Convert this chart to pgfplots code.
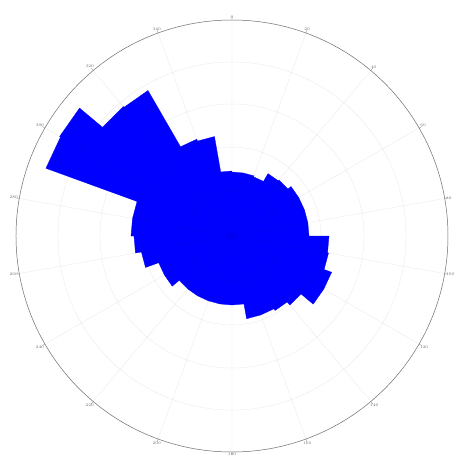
\documentclass[border=0pt]{standalone}
\usepackage{pgfplots}
\pgfplotsset{compat=1.18}
\usepgfplotslibrary{polar}
\begin{document}
\begin{tikzpicture}
\begin{polaraxis}[
  name=ax, at={(0,0)}, anchor=center,
  width=432bp, height=432bp, scale only axis,
  ymin=0, ymax=21.6,
  ytick={4.6,8.9,13.2,17.4,21.6}, yticklabels={},
  y axis line style={draw=none},
  ytick style={draw=none},
  xtick={10,30,...,350},
  xticklabels={80,60,40,20,0,340,320,300,280,260,240,220,200,180,160,140,120,100},
  xticklabel style={font=\fontsize{4}{4}\selectfont, text=black!60, inner sep=1pt},
  major tick length=3bp,
  xtick style={black!60},
  grid=major,
  major grid style={black, opacity=0.08, line width=0.4pt},
  x axis line style={black!55, line width=0.5pt},
  axis on top,
]
\addplot[fill=blue, draw=blue, line width=0.3pt] coordinates {
(90,6.4) (80,6.4)
(80,6.4) (70,6.4)
(70,6.3) (60,6.3)
(60,7.2) (50,7.2)
(50,7.3) (40,7.3)
(40,7.7) (30,7.7)
(30,7.7) (20,7.7)
(20,7.7) (10,7.7)
(10,7.7) (0,7.7)
(0,9.7) (-10,9.7)
(-10,9.8) (-20,9.8)
(-20,10.6) (-30,10.6)
(-30,10.6) (-40,10.6)
(-40,9.0) (-50,9.0)
(-50,8.6) (-60,8.6)
(-60,8.4) (-70,8.4)
(-70,8.4) (-80,8.4)
(-80,6.9) (-90,6.9)
(-90,6.9) (-100,6.9)
(-100,6.9) (-110,6.9)
(-110,6.9) (-120,6.9)
(-120,6.9) (-130,6.9)
(-130,6.9) (-140,6.9)
(-140,7.8) (-150,7.8)
(-150,7.8) (-160,7.8)
(-160,9.2) (-170,9.2)
(-170,9.8) (-180,9.8)
(-180,10.1) (-190,10.1)
(-190,10.1) (-200,10.1)
(-200,19.8) (-210,19.8)
(-210,19.9) (-220,19.9)
(-220,16.9) (-230,16.9)
(-230,16.8) (-240,16.8)
(-240,10.3) (-250,10.3)
(-250,10.1) (-260,10.1)
(-260,6.5) (-270,6.5)
};
\end{polaraxis}
\pgfresetboundingbox
\path (-232bp,-223bp) rectangle (223bp,236bp);
\end{tikzpicture}
\end{document}
